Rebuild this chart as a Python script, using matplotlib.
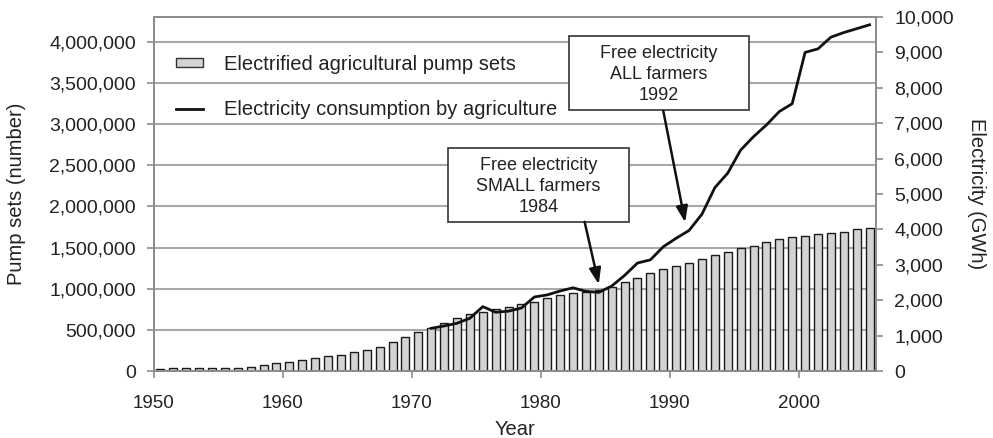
import matplotlib
matplotlib.use("Agg")
import matplotlib.pyplot as plt
from matplotlib.ticker import FuncFormatter
from matplotlib.patches import Rectangle, Patch
from matplotlib.lines import Line2D

plt.rcParams['font.family'] = ['Liberation Sans', 'DejaVu Sans']

# pump sets per year, 1950-2005
years = list(range(1950, 2006))
pump_sets = [20000, 33000, 33000, 33000, 33000, 32000, 40000, 52000, 69000, 94000,
             113000, 134000, 162000, 182000, 195000, 235000, 255000, 296000, 349000, 418000,
             478000, 527000, 588000, 648000, 693000, 714000, 750000, 782000, 811000, 843000,
             884000, 924000, 953000, 965000, 985000, 1026000, 1079000, 1128000, 1188000, 1237000,
             1277000, 1310000, 1359000, 1411000, 1451000, 1493000, 1524000, 1561000, 1602000, 1626000,
             1642000, 1670000, 1682000, 1694000, 1724000, 1735000]

# electricity consumption by agriculture (GWh), 1971-2005
elec_years = list(range(1971, 2006))
electricity = [1206, 1272, 1348, 1490, 1818, 1660, 1690, 1780, 2090, 2150,
               2260, 2350, 2250, 2220, 2400, 2700, 3050, 3140, 3510, 3750,
               3970, 4430, 5180, 5590, 6240, 6620, 6950, 7330, 7550, 9000,
               9100, 9430, 9560, 9670, 9780]

xticks = [1950, 1960, 1970, 1980, 1990, 2000]

grey = '#8c8c8c'
txt = '#222222'

fig = plt.figure(figsize=(9.93, 4.38), dpi=100)
ax = fig.add_axes([154/993, 1-371/438, (876-154)/993, (371-17)/438])
ax2 = ax.twinx()

# bars centred in each year's slot
ax.bar([y + 0.5 for y in years], pump_sets, width=0.62, color='#d3d3d3',
       edgecolor='#1a1a1a', linewidth=1.0, zorder=2)
ax.set_xlim(1950, 2006)
ax.set_ylim(0, 4300000)
ax.set_yticks([i * 500000 for i in range(9)])
ax.yaxis.set_major_formatter(FuncFormatter(lambda v, _: f'{int(v):,}'))
ax.set_xticks(xticks)
ax.grid(axis='y', color='#a8a8a8', linewidth=1.5, zorder=0)
ax.set_axisbelow(True)

ax2.plot([y + 0.5 for y in elec_years], electricity, color='#111111', linewidth=2.0, zorder=3)
ax2.set_ylim(0, 10000)
ax2.set_yticks(range(0, 10001, 1000))
ax2.yaxis.set_major_formatter(FuncFormatter(lambda v, _: f'{int(v):,}'))

for a in (ax, ax2):
    for s in a.spines.values():
        s.set_color(grey)
        s.set_linewidth(1.3)
    a.tick_params(colors=grey, labelcolor=txt, labelsize=14, length=5, width=1.2, pad=8)
ax.tick_params(axis='x', labelsize=13.5, pad=12)

ax.set_xlabel('Year', fontsize=14.5, color=txt, labelpad=6)
ax.set_ylabel('Pump sets (number)', fontsize=14.5, color=txt, labelpad=17)
ax2.set_ylabel('Electricity (GWh)', fontsize=14.5, color=txt, rotation=270, labelpad=23)

# annotation boxes
boxes = [
    ('Free electricity\nSMALL farmers\n1984', (1972.8, 4213), 14.05, 2092, (1983.4, 4213), (1984.5, 2450)),
    ('Free electricity\nALL farmers\n1992', (1982.2, 7379), 13.96, 2092, (1989.5, 7350), (1991.2, 4200)),
]
for label, (x0, y0), w, h, start, tip in boxes:
    ax2.add_patch(Rectangle((x0, y0), w, h, facecolor='white', edgecolor='#333333',
                            linewidth=1.2, zorder=5))
    ax2.text(x0 + w / 2, y0 + h / 2 - 50, label, ha='center', va='center', fontsize=13,
             color=txt, linespacing=1.3, zorder=6)
    ax2.annotate('', xy=tip, xytext=start,
                 arrowprops=dict(arrowstyle='-|>,head_length=0.6,head_width=0.22',
                                 color='#111111', lw=1.8,
                                 mutation_scale=16, shrinkA=0, shrinkB=0), zorder=6)

handles = [Patch(facecolor='#d3d3d3', edgecolor='#333333', linewidth=1.0),
           Line2D([0], [0], color='#111111', linewidth=2.0)]
leg = ax2.legend(handles, ['Electrified agricultural pump sets',
                           'Electricity consumption by agriculture'],
                 loc='upper left', bbox_to_anchor=(0.0194, 0.916), frameon=False,
                 fontsize=14.5, handlelength=1.35, handleheight=0.35, handletextpad=1.05,
                 labelspacing=1.28, borderaxespad=0)
for t in leg.get_texts():
    t.set_color(txt)

fig.savefig('out.png', dpi=100)
